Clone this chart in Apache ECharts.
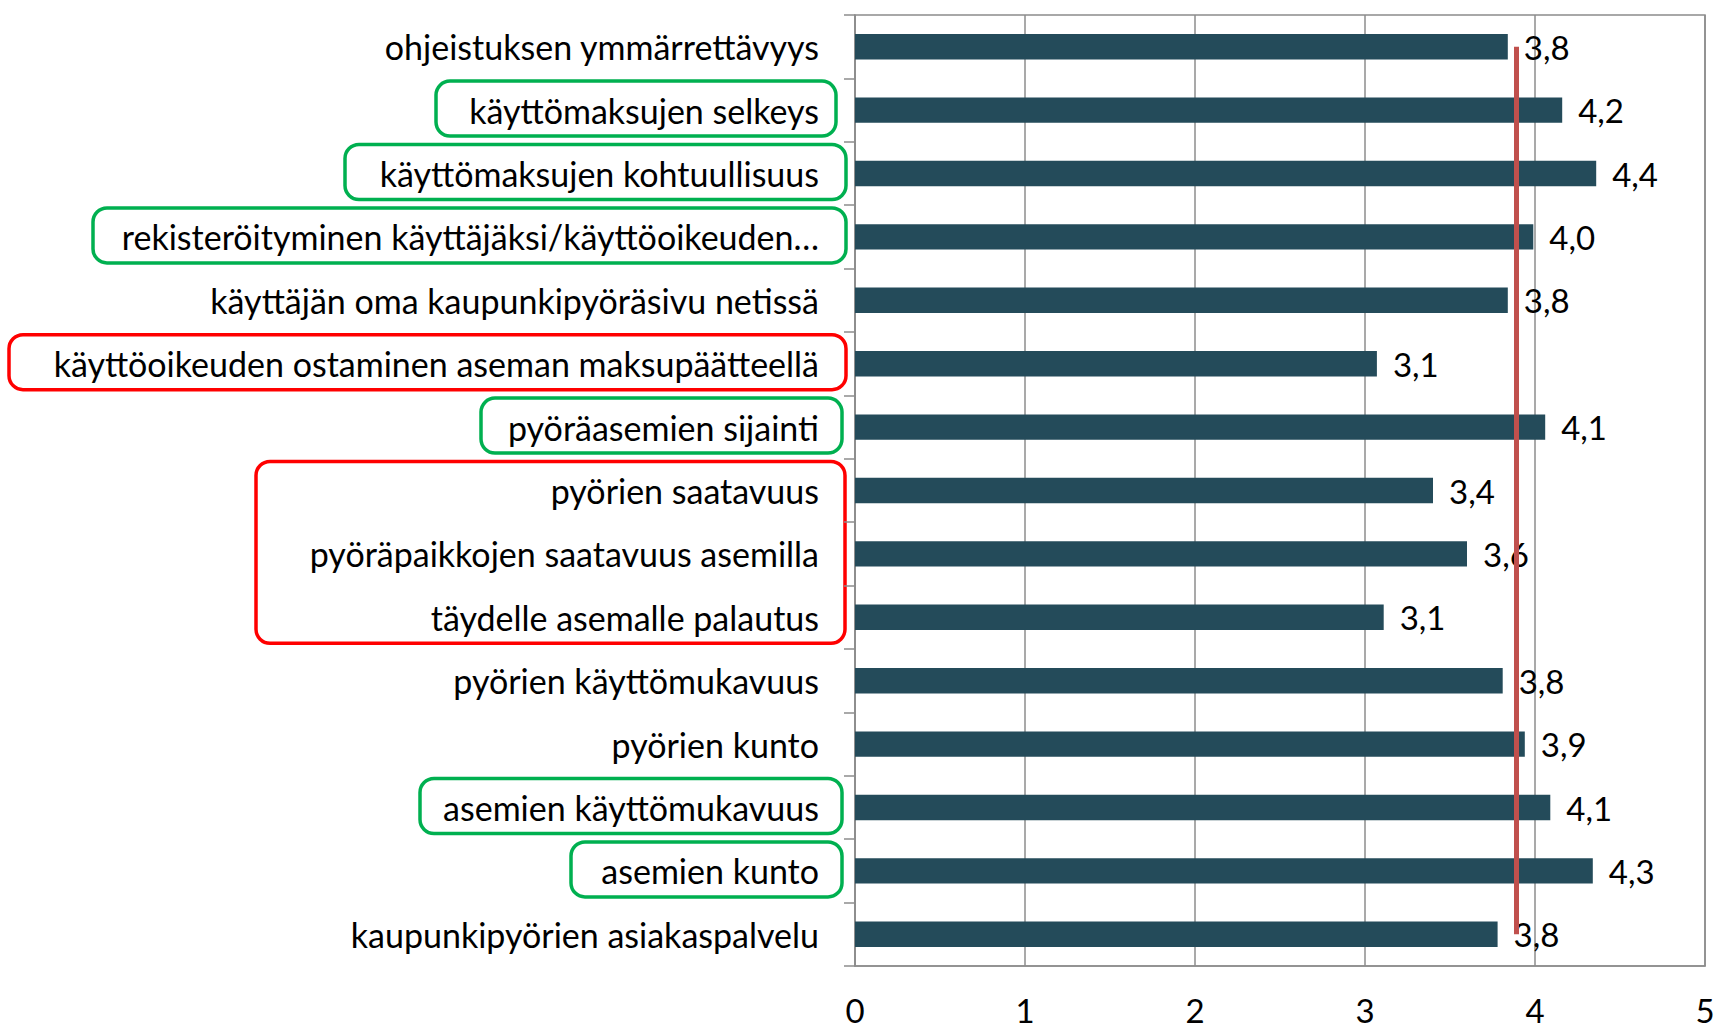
<!DOCTYPE html>
<html>
<head>
<meta charset="utf-8">
<script src="https://cdn.jsdelivr.net/npm/echarts@6/dist/echarts.min.js"></script>
<style>
  html, body { margin: 0; padding: 0; background: #fff; }
  #chart { width: 1729px; height: 1029px; }
</style>
</head>
<body>
<div id="chart"></div>
<script>
var categories = [
  'ohjeistuksen ymmärrettävyys',
  'käyttömaksujen selkeys',
  'käyttömaksujen kohtuullisuus',
  'rekisteröityminen käyttäjäksi/käyttöoikeuden…',
  'käyttäjän oma kaupunkipyöräsivu netissä',
  'käyttöoikeuden ostaminen aseman maksupäätteellä',
  'pyöräasemien sijainti',
  'pyörien saatavuus',
  'pyöräpaikkojen saatavuus asemilla',
  'täydelle asemalle palautus',
  'pyörien käyttömukavuus',
  'pyörien kunto',
  'asemien käyttömukavuus',
  'asemien kunto',
  'kaupunkipyörien asiakaspalvelu'
];
var scores = [3.84, 4.16, 4.36, 3.99, 3.84, 3.07, 4.06, 3.40, 3.60, 3.11, 3.81, 3.94, 4.09, 4.34, 3.78];
var averageScore = 3.89;
var xTicks = [0, 1, 2, 3, 4, 5];

// highlight boxes around labels: first/last category index, left/right edge, colour
var boxes = [
  { from: 1, to: 1, x0: 436, x1: 836, color: '#00b050' },
  { from: 2, to: 2, x0: 345, x1: 846, color: '#00b050' },
  { from: 3, to: 3, x0: 93, x1: 846, color: '#00b050' },
  { from: 5, to: 5, x0: 9, x1: 846, color: '#ff0000' },
  { from: 6, to: 6, x0: 481, x1: 842, color: '#00b050' },
  { from: 7, to: 9, x0: 256, x1: 845, color: '#ff0000' },
  { from: 12, to: 12, x0: 420, x1: 842, color: '#00b050' },
  { from: 13, to: 13, x0: 571, x1: 842, color: '#00b050' }
];

var font = 'Lato';
var grey = '#8c8c8c';
var chart = echarts.init(document.getElementById('chart'), null, { renderer: 'svg' });

chart.setOption({
  animation: false,
  grid: { left: 855, right: 24, top: 15, bottom: 63, show: true, borderColor: grey, borderWidth: 1.5 },
  xAxis: {
    type: 'value',
    min: xTicks[0],
    max: xTicks[xTicks.length - 1],
    interval: 1,
    axisLine: { show: true, lineStyle: { color: grey, width: 1.5 } },
    axisTick: { show: false },
    axisLabel: { color: '#000', fontSize: 33, lineHeight: 30, fontFamily: font, margin: 29 },
    splitLine: { show: true, lineStyle: { color: grey, width: 1.5 } }
  },
  yAxis: {
    type: 'category',
    data: categories,
    inverse: true,
    axisLine: { show: true, lineStyle: { color: grey, width: 1.5 } },
    axisTick: { show: true, length: 11, lineStyle: { color: grey, width: 1.5 } },
    axisLabel: { color: '#000', fontSize: 34, fontFamily: font, margin: 36 }
  },
  series: [{
    type: 'bar',
    data: scores,
    barWidth: '40%',
    itemStyle: { color: '#244b5a' },
    label: {
      show: true,
      position: 'right',
      distance: 16,
      color: '#000',
      fontSize: 33,
      fontFamily: font,
      formatter: function(p) { return p.value.toFixed(1).replace('.', ','); }
    },
    markLine: {
      silent: true,
      symbol: 'none',
      label: { show: false },
      lineStyle: { color: '#c0504d', width: 5, type: 'solid' },
      data: [[
        { coord: [averageScore, categories[0]] },
        { coord: [averageScore, categories[categories.length - 1]] }
      ]]
    }
  }]
});

function drawBoxes() {
  var els = boxes.map(function(b) {
    var yTop = chart.convertToPixel({ yAxisIndex: 0 }, categories[b.from]) - 29;
    var yBot = chart.convertToPixel({ yAxisIndex: 0 }, categories[b.to]) + 26;
    return {
      type: 'rect',
      shape: { x: b.x0, y: yTop, width: b.x1 - b.x0, height: yBot - yTop, r: 14 },
      style: { fill: 'none', stroke: b.color, lineWidth: 3.5 },
      silent: true
    };
  });
  chart.setOption({ graphic: els });
}
drawBoxes();
window.addEventListener('resize', function() { chart.resize(); drawBoxes(); });
</script>
</body>
</html>
